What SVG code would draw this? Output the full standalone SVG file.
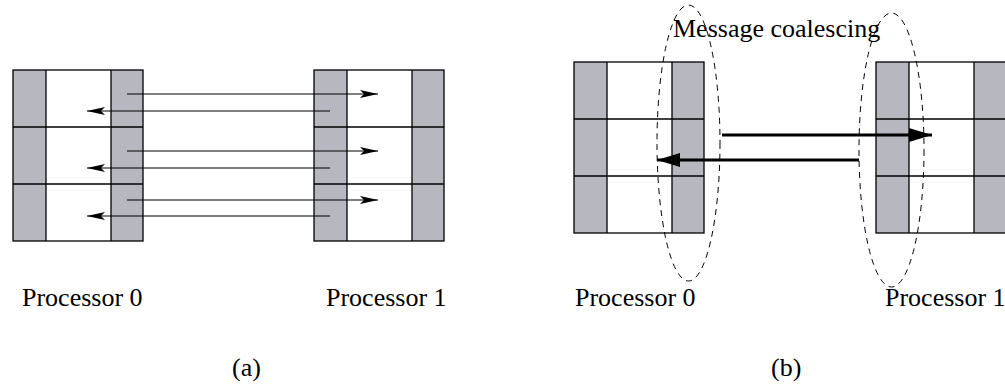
<svg xmlns="http://www.w3.org/2000/svg" width="1005" height="387" viewBox="0 0 1005 387">
  <style>
    .halo { fill: #b7b7bf; stroke: none; }
    .frame { fill: none; stroke: #000; stroke-width: 1.3; }
    .grid { stroke: #000; stroke-width: 1.3; }
    .label { font-family: "Liberation Serif", "Times New Roman", serif; font-size: 26px; fill: #000; }
    .thin { stroke: #000; stroke-width: 1.2; fill: none; }
    .thick { stroke: #000; stroke-width: 3.2; fill: none; }
    .group { fill: none; stroke: #000; stroke-width: 1; stroke-dasharray: 6 5; }
  </style>
  <defs>
    <!-- processor block: ghost column | interior | ghost column, three rows -->
    <g id="block">
      <rect class="halo" x="0" y="0" width="33" height="171"/>
      <rect class="halo" x="98" y="0" width="32" height="171"/>
      <line class="grid" x1="33" y1="0" x2="33" y2="171"/>
      <line class="grid" x1="98" y1="0" x2="98" y2="171"/>
      <line class="grid" x1="0" y1="57" x2="130" y2="57"/>
      <line class="grid" x1="0" y1="114" x2="130" y2="114"/>
      <rect class="frame" x="0" y="0" width="130" height="171"/>
    </g>
    <marker id="headThin" viewBox="0 0 18 8" refX="18" refY="4" markerWidth="18" markerHeight="8" markerUnits="userSpaceOnUse" orient="auto">
      <path d="M0,0 L18,4 L0,8 L4,4 z" fill="#000"/>
    </marker>
    <marker id="headThick" viewBox="0 0 23 14" refX="23" refY="7" markerWidth="23" markerHeight="14" markerUnits="userSpaceOnUse" orient="auto">
      <path d="M0,0 L23,7 L0,14 z" fill="#000"/>
    </marker>
  </defs>

  <!-- (a) one message per boundary row -->
  <g id="a-proc0"><use href="#block" x="13" y="70"/></g>
  <g id="a-proc1"><use href="#block" x="314" y="70"/></g>

  <!-- (b) coalesced exchange -->
  <g id="b-proc0"><use href="#block" x="574" y="62"/></g>
  <g id="b-proc1"><use href="#block" x="876" y="62"/></g>

  <g id="connectors">
    <line class="thin" x1="127" y1="94" x2="378" y2="94" marker-end="url(#headThin)"/>
    <line class="thin" x1="330" y1="111" x2="87" y2="111" marker-end="url(#headThin)"/>
    <line class="thin" x1="127" y1="151" x2="378" y2="151" marker-end="url(#headThin)"/>
    <line class="thin" x1="330" y1="168" x2="87" y2="168" marker-end="url(#headThin)"/>
    <line class="thin" x1="127" y1="200" x2="378" y2="200" marker-end="url(#headThin)"/>
    <line class="thin" x1="330" y1="216" x2="87" y2="216" marker-end="url(#headThin)"/>

    <line class="thick" x1="722" y1="135" x2="932" y2="135" marker-end="url(#headThick)"/>
    <line class="thick" x1="859" y1="160" x2="657" y2="160" marker-end="url(#headThick)"/>
  </g>

  <g id="coalesce-groups">
    <ellipse class="group" cx="688.5" cy="143" rx="31.5" ry="138"/>
    <ellipse class="group" cx="891.5" cy="150" rx="32.5" ry="137"/>
  </g>

  <g id="labels" font-family="'Liberation Serif', 'Times New Roman', serif">
    <text class="label" x="673" y="37">Message coalescing</text>
    <text class="label" x="22" y="306">Processor 0</text>
    <text class="label" x="326" y="306">Processor 1</text>
    <text class="label" x="575" y="306">Processor 0</text>
    <text class="label" x="885" y="306">Processor 1</text>
    <text class="label" x="232" y="376">(a)</text>
    <text class="label" x="771" y="376">(b)</text>
  </g>
</svg>
